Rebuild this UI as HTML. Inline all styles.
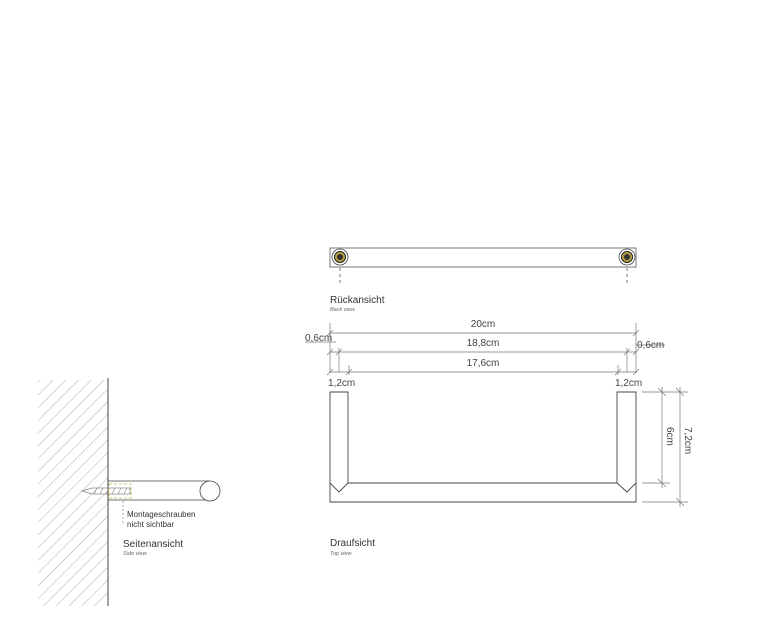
<!DOCTYPE html>
<html><head><meta charset="utf-8"><style>
html,body{margin:0;padding:0;background:#fff;}
svg{display:block;font-family:"Liberation Sans",sans-serif;}
</style></head><body>
<svg width="762" height="643" viewBox="0 0 762 643" xmlns="http://www.w3.org/2000/svg">
<defs>
<pattern id="h" width="9" height="9" patternUnits="userSpaceOnUse" patternTransform="rotate(45)">
<line x1="0" y1="0" x2="0" y2="9" stroke="#999" stroke-width="0.8"/>
</pattern>
</defs>
<g stroke="#555" stroke-width="0.8" fill="none">
<!-- back view -->
<rect x="330" y="248" width="306" height="19" fill="#fff"/>
<line x1="340" y1="268" x2="340" y2="286" stroke-dasharray="3,3"/>
<line x1="627" y1="268" x2="627" y2="286" stroke-dasharray="3,3"/>
</g>
<g>
<circle cx="340" cy="257" r="8" fill="#fff" stroke="#444" stroke-width="0.8"/>
<circle cx="340" cy="257" r="5.5" fill="#b8a040" stroke="#222"/>
<circle cx="340" cy="257" r="3" fill="#333"/>
<circle cx="627" cy="257" r="8" fill="#fff" stroke="#444" stroke-width="0.8"/>
<circle cx="627" cy="257" r="5.5" fill="#b8a040" stroke="#222"/>
<circle cx="627" cy="257" r="3" fill="#333"/>
</g>
<text x="330" y="303" font-size="10" fill="#333">Rückansicht</text>
<text x="330" y="311" font-size="5.5" font-style="italic" fill="#666">Back view</text>
<!-- dims -->
<g stroke="#777" stroke-width="0.7" fill="none">
<line x1="330" y1="323" x2="330" y2="373"/>
<line x1="636" y1="323" x2="636" y2="373"/>
<line x1="330" y1="333" x2="636" y2="333"/>
<line x1="330" y1="352" x2="636" y2="352"/>
<line x1="330" y1="372" x2="636" y2="372"/>
<line x1="305" y1="342" x2="336" y2="342"/>
<line x1="636" y1="345" x2="665" y2="345"/>
<line x1="339" y1="348" x2="339" y2="372"/>
<line x1="627" y1="348" x2="627" y2="372"/>
<line x1="349" y1="365" x2="349" y2="375"/>
<line x1="618" y1="365" x2="618" y2="375"/>
<path d="M327 336l6-6M633 336l6-6M327 355l6-6M336 355l6-6M624 355l6-6M633 355l6-6M327 375l6-6M346 375l6-6M615 375l6-6M633 375l6-6"/>
</g>
<g font-size="10" fill="#444">
<text x="483" y="327" text-anchor="middle">20cm</text>
<text x="483" y="346" text-anchor="middle">18,8cm</text>
<text x="483" y="366" text-anchor="middle">17,6cm</text>
<text x="305" y="341">0,6cm</text>
<text x="637" y="348">0,6cm</text>
<text x="328" y="386">1,2cm</text>
<text x="615" y="386">1,2cm</text>
</g>
<!-- top view -->
<g stroke="#444" stroke-width="0.9" fill="none">
<path d="M330 392H348V483H617V392H636V502H330Z"/>
<path d="M330 483L339 492L348 483M617 483L627 492L636 483"/>
</g>
<g stroke="#777" stroke-width="0.7" fill="none">
<line x1="642" y1="392" x2="688" y2="392"/>
<line x1="642" y1="483" x2="670" y2="483"/>
<line x1="642" y1="502" x2="688" y2="502"/>
<line x1="662" y1="387" x2="662" y2="488"/>
<line x1="680" y1="387" x2="680" y2="507"/>
<path d="M658 388l8 8M658 479l8 8M676 388l8 8M676 498l8 8"/>
</g>
<text font-size="10" fill="#444" transform="translate(667,427) rotate(90)">6cm</text>
<text font-size="10" fill="#444" transform="translate(685,427) rotate(90)">7,2cm</text>
<text x="330" y="546" font-size="10" fill="#333">Draufsicht</text>
<text x="330" y="555" font-size="5.5" font-style="italic" fill="#666">Top view</text>
<!-- side view -->
<rect x="38" y="380" width="70" height="226" fill="url(#h)"/>
<line x1="108" y1="378" x2="108" y2="606" stroke="#444" stroke-width="1"/>
<g stroke="#444" stroke-width="0.8" fill="none">
<path d="M108 481H210M108 500H210"/>
<circle cx="210" cy="491" r="10" fill="#fff"/>
<path d="M82 491L92 488H130V494H92Z" stroke="#888"/>
<path d="M94 494l3-6M100 494l3-6M106 494l3-6M112 494l3-6M118 494l3-6M124 494l3-6" stroke="#999"/>
<rect x="109" y="484" width="22" height="14" stroke="#c8b050" stroke-dasharray="3,2"/>
<line x1="123" y1="501" x2="123" y2="523" stroke="#888" stroke-dasharray="2,2"/>
</g>
<text x="127" y="517" font-size="8" fill="#333">Montageschrauben</text>
<text x="127" y="527" font-size="8" fill="#333">nicht sichtbar</text>
<text x="123" y="547" font-size="10" fill="#333">Seitenansicht</text>
<text x="123" y="555" font-size="5.5" font-style="italic" fill="#666">Side view</text>
</svg>
</body></html>
